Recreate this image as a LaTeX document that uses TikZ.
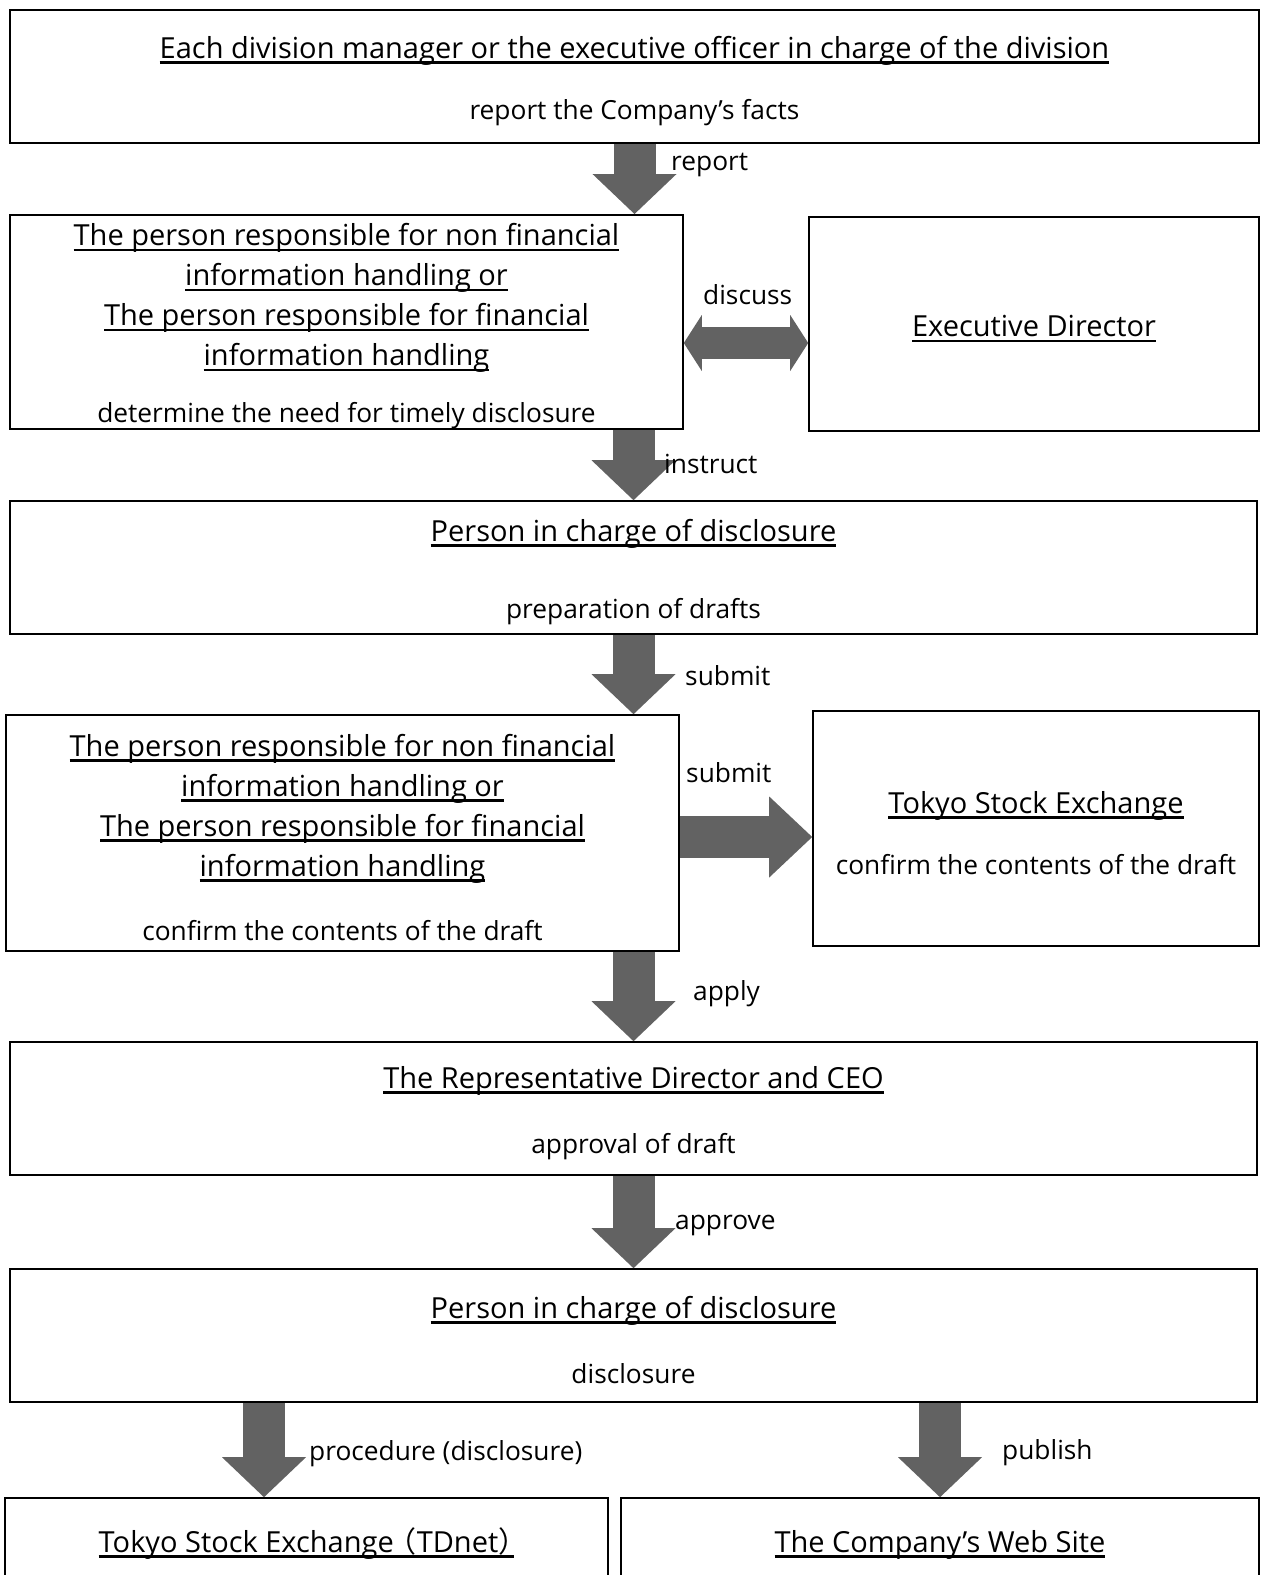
\documentclass[tikz,border=0pt]{standalone}
\usepackage{fontspec}
\setmainfont{Open Sans}
\newfontfamily\cjk{Noto Sans CJK JP}
\usetikzlibrary{arrows.meta,calc}
\definecolor{arrowgray}{RGB}{98,98,98}
\newcommand\subsize{\fontsize{26.3}{40}\selectfont}
\newcommand\ulin[1]{\setbox0\hbox{#1}\leavevmode\rule{0pt}{31pt}\rlap{\rule[-5.5pt]{\wd0}{2.6pt}}\box0}

\begin{document}
\begin{tikzpicture}[x=1pt,y=-1pt,
    box/.style={draw, line width=1.6pt, inner sep=0pt, align=center,
      font=\fontsize{29}{40}\selectfont},
    lbl/.style={anchor=west, inner sep=0pt, font=\subsize},
    down/.style={draw=arrowgray, line width=42pt,
      -{Triangle[width=84pt,length=40pt,line width=0pt]}},
    right/.style={draw=arrowgray, line width=42pt,
      -{Triangle[width=81pt,length=43pt,line width=0pt]}},
    both/.style={draw=arrowgray, line width=32pt,
      {Triangle[width=56pt,length=18pt,line width=0pt]}-{Triangle[width=56pt,length=18pt,line width=0pt]}}]
    \useasboundingbox (0,0) rectangle (1261,1575);
    \node[box, minimum width=1249pt, minimum height=133pt] (head) at (634.5,76.5)
      {\ulin{Each division manager or the executive officer in charge of the division}\\[21pt]
       {\subsize report the Company's facts}};
    \node[box, minimum width=673pt, minimum height=214pt] (judge) at (346.5,322)
      {\ulin{The person responsible for non financial}\\
       \ulin{information handling or}\\
       \ulin{The person responsible for financial}\\
       \ulin{information handling}\\[17pt]
       {\subsize determine the need for timely disclosure}};
    \node[box, minimum width=450pt, minimum height=214pt] (exec) at (1034,324)
      {\ulin{Executive Director}};
    \node[box, minimum width=1247pt, minimum height=133pt] (draft) at (633.5,567.5)
      {\ulin{Person in charge of disclosure}\\[37pt]
       {\subsize preparation of drafts}};
    \node[box, minimum width=673pt, minimum height=236pt] (check) at (342.5,833)
      {\ulin{The person responsible for non financial}\\
       \ulin{information handling or}\\
       \ulin{The person responsible for financial}\\
       \ulin{information handling}\\[24pt]
       {\subsize confirm the contents of the draft}};
    \node[box, minimum width=446pt, minimum height=235pt] (tse) at (1036,828.5)
      {\ulin{Tokyo Stock Exchange}\\[21pt]
       {\subsize confirm the contents of the draft}};
    \node[box, minimum width=1247pt, minimum height=133pt] (ceo) at (633.5,1108.5)
      {\ulin{The Representative Director and CEO}\\[25pt]
       {\subsize approval of draft}};
    \node[box, minimum width=1247pt, minimum height=133pt] (disc) at (633.5,1335.5)
      {\ulin{Person in charge of disclosure}\\[25pt]
       {\subsize disclosure}};
    \node[box, minimum width=603pt, minimum height=152pt] (tdnet) at (306.5,1574)
      {\ulin{Tokyo Stock Exchange{\cjk\kern-6pt （}TDnet{\cjk ）\kern-13pt}}\\[35pt]\phantom{x}};
    \node[box, minimum width=638pt, minimum height=152pt] (web) at (940,1574)
      {\ulin{The Company’s Web Site}\\[35pt]\phantom{x}};

    % flow down the page
    \draw[down] (head.south) -- (head.south |- judge.north);
    \draw[down] (draft.north |- judge.south) -- (draft.north);
    \draw[down] (draft.south) -- (draft.south |- check.north);
    \draw[down] (ceo.north |- check.south) -- (ceo.north);
    \draw[down] (ceo.south) -- (disc.north);
    \draw[down] ([xshift=-42.5pt]tdnet.north |- disc.south) -- ([xshift=-42.5pt]tdnet.north);
    \draw[down] (web.north |- disc.south) -- (web.north);
    % side arrows
    \draw[both] ([yshift=-21pt]judge.east) -- ([yshift=-21pt]judge.east -| exec.west);
    \draw[right] ([yshift=-4pt]check.east) -- ([yshift=-4pt]check.east -| tse.west);

    \node[lbl] (l1) at (671,165) {report};
    \node[lbl] (l2) at (703,295) {discuss};
    \node[lbl] (l3) at (664,464) {instruct};
    \node[lbl] (l4) at (685,676) {submit};
    \node[lbl] (l5) at (686,773) {submit};
    \node[lbl] (l6) at (693,994) {apply};
    \node[lbl] (l7) at (675,1225) {approve};
    \node[lbl] (l8) at (309,1454) {procedure (disclosure)};
    \node[lbl] (l9) at (1002,1453) {publish};
\end{tikzpicture}
\end{document}
